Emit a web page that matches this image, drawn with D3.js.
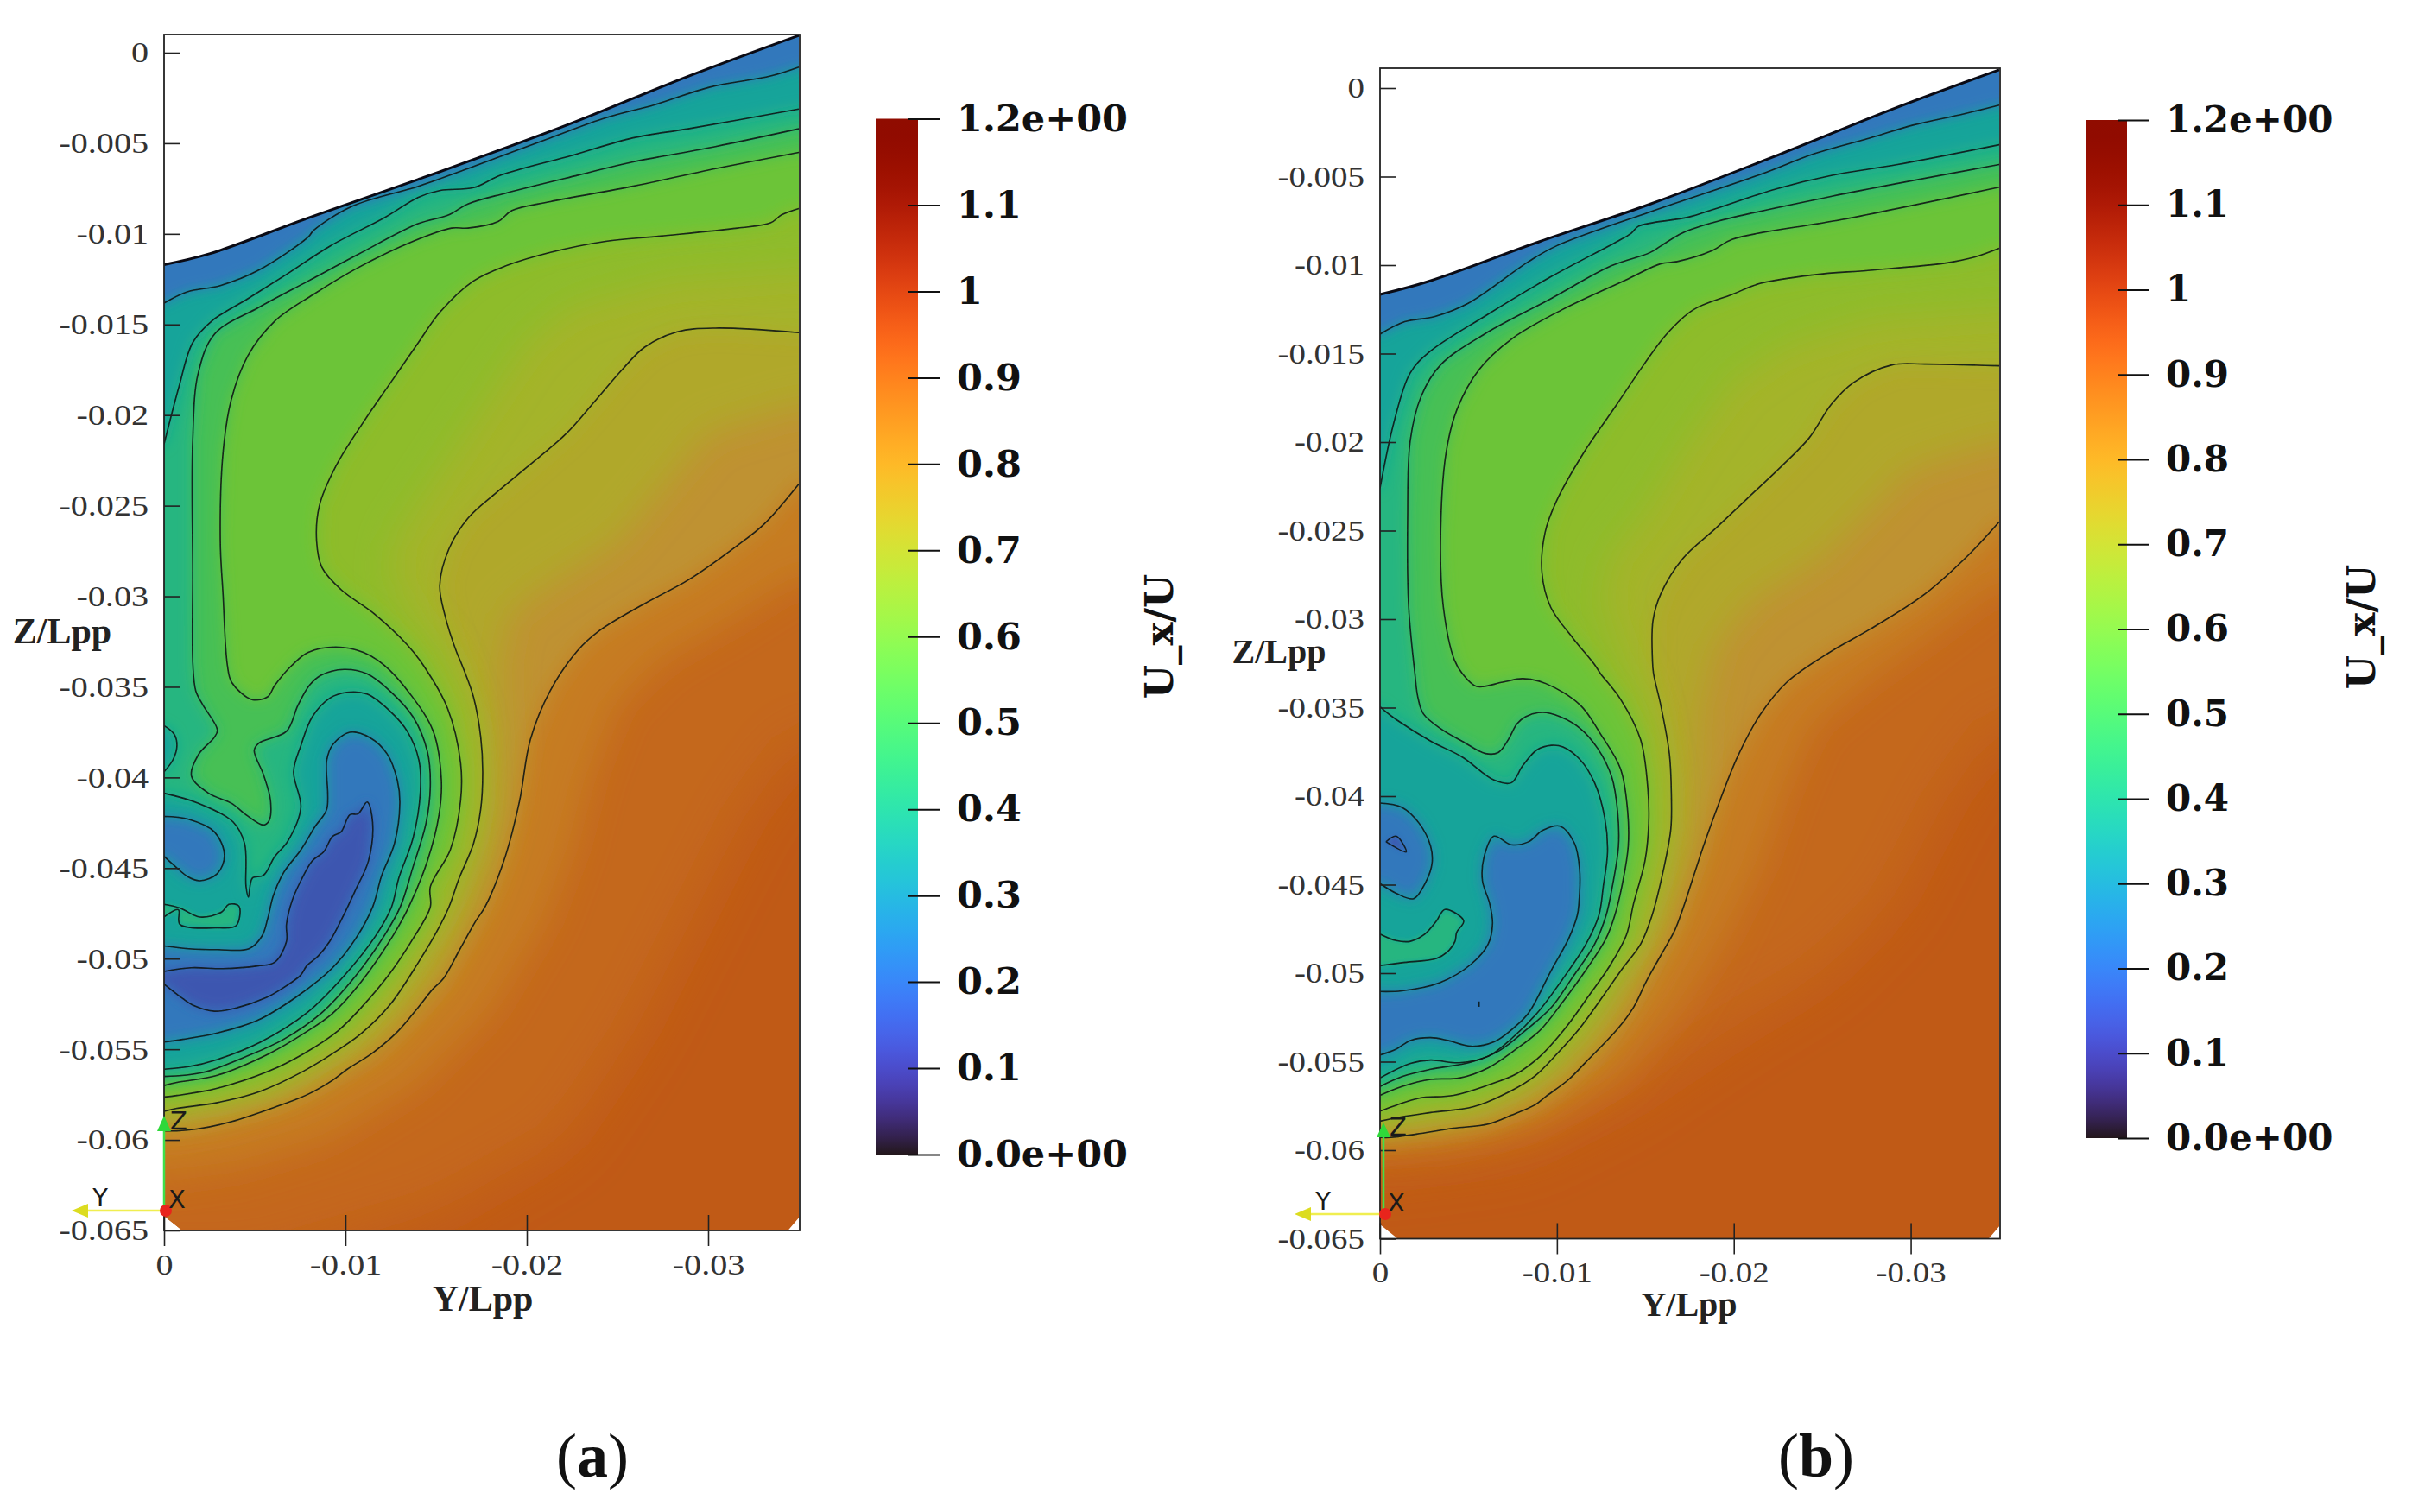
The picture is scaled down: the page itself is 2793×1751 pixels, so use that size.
<!DOCTYPE html>
<html>
<head>
<meta charset="utf-8">
<title>U_x/U wake sections</title>
<script src="https://cdn.jsdelivr.net/npm/d3@7"></script>
<style>
	html, body { margin: 0; background: #fff; }
	svg { display: block; }
</style>
</head>
<body>
<script>
var yTicks = [0, -0.01, -0.02, -0.03];
var yTickLabels = ["0", "-0.01", "-0.02", "-0.03"];
var zTicks = [0, -0.005, -0.01, -0.015, -0.02, -0.025, -0.03, -0.035, -0.04, -0.045, -0.05, -0.055, -0.06, -0.065];
var zTickLabels = ["0", "-0.005", "-0.01", "-0.015", "-0.02", "-0.025", "-0.03", "-0.035", "-0.04", "-0.045", "-0.05", "-0.055", "-0.06", "-0.065"];
var barTicks = [0, 0.1, 0.2, 0.3, 0.4, 0.5, 0.6, 0.7, 0.8, 0.9, 1, 1.1, 1.2];
var barTickLabels = ["0.0e+00", "0.1", "0.2", "0.3", "0.4", "0.5", "0.6", "0.7", "0.8", "0.9", "1", "1.1", "1.2e+00"];

// All contour points below are [|Y/Lpp|, |Z/Lpp|] in thousandths.

// panel (a)
var aHull = [[0,11.7],[2.5,11.1],[7.95,9.12],[14,7],[22.2,4],[28.9,1.3],[35,-0.95]];
var aG = [[35,23.8],[33.1,26],[31.6,27.2],[28.9,29.1],[26.5,30.4],[24,31.9],[22.8,33],[21.3,35.2],[20.2,37.9],[19.6,41.3],[18.8,44.4],[17.7,47.14],[17.2,47.9],[16.3,49.5],[15.4,51.1],[14.8,51.7],[14,52.7],[12.9,54],[11.5,55.2],[10.1,56.1],[9.3,56.7],[7.9,57.5],[6.1,58.2],[3.7,59],[1.8,59.4],[0.7,59.5],[0,59.5]];
var aF = [[35,15.45],[30.4,15.2],[28.3,15.4],[26.5,16.25],[25.25,17.5],[23.7,19.3],[22.2,21],[20.1,22.8],[18.3,24.3],[16.75,25.7],[15.7,27.4],[15.2,29.4],[15.5,31.1],[16.1,33],[16.43,33.8],[17.06,35.55],[17.46,37.77],[17.57,39.68],[17.46,41.74],[17.06,43.65],[16.27,45.56],[15.71,47.14],[15,48.57],[14.05,50.16],[12.46,52.54],[10.87,54.13],[9.29,55.24],[7.7,56.2],[5.32,57.31],[2.94,57.94],[0.71,58.26],[0,58.42]];
var aE = [[35,8.6],[34.05,8.95],[33.44,9.39],[31.62,9.68],[27.37,10.12],[24.34,10.41],[21.3,11.02],[18.88,11.75],[17.06,12.6],[15.23,14.3],[14.02,16],[12.5,18.2],[10.99,20.39],[9.47,22.82],[8.56,25.01],[8.41,26.96],[8.71,28.42],[9.77,29.64],[11.59,30.97],[13.41,32.68],[14.29,33.8],[15.63,36.18],[16.35,39.2],[16.35,41.27],[15.79,43.97],[14.68,46.03],[14.68,47.14],[13.73,48.89],[12.46,50.8],[10.87,52.7],[9.6,53.97],[7.7,55.24],[5.79,56.2],[2.94,57.15],[0.71,57.55],[0,57.63]];
var aD = [[35,5.5],[30.4,6.4],[25.86,7.37],[21.3,8.22],[19.18,8.71],[18.42,9.32],[16.75,9.68],[15.84,9.68],[13.72,10.41],[10.68,11.87],[8.25,13.33],[6.13,14.79],[4.61,16.74],[3.7,19.17],[3.25,22.09],[3.1,26.96],[3.25,29.88],[3.49,33.8],[3.73,34.75],[4.84,35.7],[5.71,35.55],[6.11,34.91],[7.06,33.8],[7.95,33.1],[9.47,32.8],[10.99,33.1],[12.14,33.8],[13.57,35.39],[14.84,37.45],[15.29,40.15],[15.16,42.06],[14.52,44.6],[13.49,47.15],[12.62,48.73],[10.87,51.27],[9.29,53.02],[7.7,54.13],[5.79,55.24],[2.94,56.43],[0.71,56.83],[0,57]];
var aC = [[35,4.2],[30.4,5.18],[25.86,6.03],[22.82,6.76],[18.88,7.74],[16.75,8.35],[15.7,8.95],[14,9.44],[10.68,11.14],[7.95,12.6],[5.22,14.06],[2.79,15.52],[1.88,17.7],[1.58,21.4],[1.58,28.7],[1.59,33.8],[1.75,35.23],[2.14,36],[2.94,37.37],[2.78,37.77],[1.9,38.73],[1.51,39.92],[2.46,40.87],[3.73,41.43],[4.52,42.06],[5.48,42.62],[5.79,42.38],[5.87,41.27],[5.48,39.84],[4.97,38.49],[5.24,38.09],[6.75,37.45],[7.38,36.02],[8.02,34.91],[8.65,34.36],[9.92,34.04],[11.19,34.28],[12.46,35.23],[13.73,36.66],[14.52,38.57],[14.68,40.47],[14.44,42.54],[13.73,44.92],[13.02,47.15],[12.14,48.73],[10.56,50.95],[8.65,53.02],[6.59,54.45],[4.52,55.4],[2.14,56.28],[0,56.5]];
var aBTop = [[35,3.11],[28.9,4.2],[25.86,4.7],[22.5,5.67],[18.57,6.76],[17.06,7.45],[15.23,7.6],[14.02,7.98],[12.2,9.08],[9.17,10.66],[6.74,12.24],[4.61,13.58],[2.64,14.8],[1.58,16],[0.82,18.44],[0,21.6]];
var aBump = [[0,37.14],[0.55,37.6],[0.71,38.25],[0.48,39.04],[0,39.68]];
var aB = [[0,40.87],[1.83,41.4],[3.8,42.45],[4.44,43.65],[4.52,46.03],[4.65,46.6],[4.87,45.55],[5.48,45.4],[6.1,44.37],[6.83,43.5],[7.54,41.66],[7.14,39.68],[7.54,38.25],[8.17,36.66],[9.13,35.63],[10.08,35.3],[11.19,35.4],[12.46,36.34],[13.41,37.45],[14.05,39.04],[14.13,40.8],[13.73,43.33],[12.94,45.56],[12.54,47.15],[11.67,48.73],[9.92,50.95],[7.86,53],[5.32,54.6],[2.94,55.56],[1.35,55.96],[0,56.1]];
var aRing = [[0,47],[0.87,47.2],[1.98,47.7],[3.17,47.43],[3.57,47],[4.13,47.1],[3.97,48.18],[2.94,48.3],[0.87,48.1],[0.79,47.3],[0,47.7]];
var aATop = [[35,0.8],[33.44,1.29],[30.1,1.9],[27.07,2.87],[24.34,3.6],[21.3,4.7],[16.75,6.4],[14.02,7.37],[10.38,8.47],[8.25,9.8],[7.95,10.17],[5.22,12],[3.1,12.85],[1.27,13.2],[0,13.82]];
var aBlob = [[0,42.15],[1.35,42.3],[2.78,43],[3.33,44.3],[2.94,45.3],[1.98,45.7],[1.35,45.5],[0.55,44.85],[0,44.35]];
var aA = [[0,49.3],[1.35,49.45],[2.94,49.5],[4.68,49.45],[5.4,48.75],[5.71,47.8],[6.03,46.5],[6.59,45.25],[7.54,44],[8.33,42.7],[8.97,41.75],[8.97,39.05],[9.29,38.2],[10.24,37.5],[11.35,37.8],[12.3,38.7],[12.86,40.15],[13,41.4],[12.7,43.65],[12,45.4],[11.5,47.15],[10.56,48.9],[9.29,50.5],[7.38,52.05],[5.16,53.4],[2.94,54.1],[1.03,54.45],[0,54.6]];
var aH = [[0,50.7],[1.5,50.5],[3.25,50.55],[5.15,50.4],[6.1,50.2],[6.75,49.05],[6.75,48.1],[7.06,46.8],[7.54,45.7],[8.17,44.6],[8.8,44.1],[9.29,43.25],[9.76,43],[10.24,42.06],[10.7,42],[11.2,41.35],[11.5,42.5],[11.27,44.6],[10.56,46.2],[9.9,47.6],[9.13,49.05],[8.5,49.85],[7.86,50.4],[7.54,50.9],[6.43,51.7],[5.63,52.15],[4.05,52.7],[2.78,52.9],[1.67,52.6],[1.03,52.2],[0,51.4]];
// colour shading between contours, no line drawn in the picture
var aShadeFar = [[35,38],[32,42],[29,48],[26,54],[22,60],[15,64],[5,67],[0,67]];
var aShadeOut = [[35,29],[31,31.5],[27.5,33.5],[25,36],[23.5,40],[22.5,44],[21,48],[18,53],[14,57],[9,60],[4,61.5],[0,62]];
var aShadeF = [[35,19.5],[30,21],[27.5,24],[25,27],[21,29.5],[19,31],[18.5,34],[18.7,38],[18.5,42],[17.5,45.5],[16.5,48],[14.5,51.5],[11,55],[6,57.5],[0,58.9]];
var aShadeE = [[35,12],[28,12.5],[22.5,14],[20,16],[18,19],[16,22],[14,25],[12.7,27],[12.5,29],[13.5,31],[15.5,33.5],[16.8,37],[17,41],[16.5,44.5],[15,47.5],[13,50.5],[10,54],[6,56.8],[0,58]];

// panel (b)
var bHull = [[0,11.66],[2.8,10.9],[9.02,8.67],[15.25,6.56],[22.7,3.7],[29.25,1.08],[35,-1.03]];
var bG = [[35,24.5],[33.3,26.34],[30.8,28.58],[27.7,30.57],[25.5,31.82],[23,33.56],[21.47,35.43],[20.22,37.75],[19.29,40.05],[18.36,42.6],[17.1,46.42],[16.68,47.54],[15.87,49],[15.05,50.47],[14.33,51.93],[13.43,53.15],[11.64,55.02],[10.67,56],[9.37,56.97],[8.72,57.46],[7.41,58.03],[6.11,58.52],[4.16,58.76],[2.05,59.09],[0.59,59.28],[0,59.28]];
var bF = [[35,15.69],[30.8,15.59],[28.94,15.64],[26.76,16.64],[25.5,17.88],[24.27,19.75],[22.7,21.36],[20.85,23.1],[19,24.85],[17.1,26.6],[15.87,28.58],[15.43,30.08],[15.4,32.3],[15.46,33.07],[15.87,34.86],[16.36,37.63],[16.47,39.9],[16.44,41.85],[16.03,44.13],[15.38,46.73],[14.73,48.36],[13.76,49.66],[12.62,51.28],[11.32,53.07],[10.02,54.54],[8.72,55.84],[7.41,56.65],[5.3,57.54],[2.86,57.87],[1.24,58.11],[0,58.36]];
var bE = [[35,9.05],[33.6,9.55],[32.05,9.87],[27.7,10.29],[24.58,10.54],[21.47,11.04],[19.9,11.66],[17.7,12.53],[16.2,13.9],[14.9,15.64],[13.38,17.88],[11.5,20.62],[9.96,23.36],[9.33,25.1],[9.15,27.34],[9.65,29.33],[10.9,31.07],[12.13,32.57],[12.46,33.07],[13.6,34.53],[14.73,36.81],[15.14,39.57],[15.19,41.53],[14.98,43.64],[14.33,46.08],[13.92,47.87],[12.94,49.66],[11.8,51.28],[10.5,53.07],[9.04,54.7],[7.74,55.67],[6.11,56.32],[4.16,56.9],[2.21,57.06],[0.91,57.46],[0,57.79]];
var bD = [[35,5.6],[26.1,7.43],[19.9,8.55],[18.8,9.17],[16.8,9.8],[15.87,9.92],[14,10.79],[10.27,12.53],[7.47,14.15],[5.6,15.9],[4.36,18.13],[3.73,20.62],[3.42,25.6],[3.58,29.33],[4.2,32.3],[4.65,33.07],[5.46,33.8],[6.93,33.56],[8.07,33.36],[9.37,33.64],[11.32,34.86],[12.46,36.48],[13.59,38.44],[14,40.87],[14.03,42.83],[13.67,45.1],[13.27,46.73],[12.78,48.03],[11.64,49.82],[10.34,51.61],[9.04,53.23],[7.58,54.37],[6.11,55.35],[4.49,55.92],[2.86,56],[1.24,56.4],[0,56.9]];
var bC = [[35,4.32],[25.2,6.18],[19,7.55],[17.1,8.18],[15.87,8.92],[15.25,9.3],[13.07,10.04],[9.65,11.9],[5.9,13.9],[3.42,15.64],[2.33,17.4],[1.71,19.9],[1.56,24.35],[1.62,29.33],[1.97,33.07],[2.13,34.37],[2.45,35.35],[3.5,36.24],[4.65,36.9],[5.95,37.59],[6.68,37.54],[7.25,36.81],[7.74,35.92],[8.23,35.51],[9.2,35.27],[10.18,35.51],[11.3,36.16],[12.3,37.3],[13.1,38.92],[13.43,40.87],[13.48,42.83],[13.1,45.27],[12.78,46.73],[12.13,48.36],[10.83,50.31],[9.69,51.93],[8.23,53.23],[6.76,54.37],[5.14,55.02],[2.86,55.43],[1.24,55.84],[0,56.4]];
var bBTop = [[35,3.2],[29.25,4.32],[25.5,4.94],[22.4,5.69],[19,6.8],[17.4,7.3],[14.62,7.8],[14.2,8.2],[13.4,8.67],[9.65,10.66],[5.9,12.9],[2.8,14.9],[1.7,16.1],[0.78,18.9],[0,22.6]];
var bB = [[0,34.94],[0.26,35.18],[0.91,35.67],[2.86,36.89],[4.65,37.79],[6.44,39.09],[7.41,39.25],[8.07,38.27],[8.88,37.38],[9.69,37.13],[10.34,37.22],[11.32,37.95],[12.13,39.25],[12.7,41.2],[12.86,43.15],[12.62,45.1],[12.37,46.73],[11.64,48.36],[10.34,50.31],[8.88,52.26],[7.41,53.72],[6.11,54.7],[4.49,55.06],[2.86,54.91],[1.72,55.1],[0,55.92]];
var bRing = [[0,47.79],[0.91,48.16],[1.72,48.2],[2.54,47.79],[3.19,47.05],[3.67,46.4],[4.73,47.05],[4.33,47.7],[4.24,48.2],[3.76,48.84],[3.19,49.17],[1.24,49.41],[0,49.57]];
var bATop = [[35,0.96],[32.98,1.46],[30.18,2.08],[27.7,2.82],[24.58,3.7],[21.47,4.89],[15.25,7],[9.96,8.92],[8.4,9.8],[4.98,12.16],[3.11,12.9],[1.4,13.2],[0,13.9]];
var bBlob = [[0,40.39],[1.24,40.63],[2.21,41.53],[2.86,42.83],[2.94,43.8],[2.54,44.94],[1.9,45.79],[0.94,45.5],[0,44.94]];
var bA = [[0,51.04],[1.24,51],[3.35,50.55],[5.14,49.5],[6.11,48.36],[6.36,47.2],[6.2,46.08],[5.79,44.78],[5.87,43.48],[6.44,42.26],[7.41,42.74],[8.39,42.58],[9.2,41.93],[10.18,41.69],[10.99,42.66],[11.28,44.13],[11.24,46.08],[11.15,46.73],[10.67,48.03],[9.69,49.82],[8.39,52.26],[7.58,53.07],[6.44,53.88],[5.14,54.13],[3.84,53.8],[2.86,53.64],[1.72,53.8],[0.91,54.29],[0,54.62]];
var bH = [[0.34,42.58],[0.91,42.26],[1.48,43.15],[0.34,42.58]];
var bDot = [[5.6,51.6],[5.6,51.9]];
var bShadeFar = [[35,36],[32,40],[29,46],[25,50],[20,53],[14,57],[8,60],[0,61]];
var bShadeOut = [[35,28],[31,31],[27.5,33.5],[24.5,36],[22.8,40],[21.5,44],[19.5,48],[17,52],[13.5,56],[9,58.5],[4,59.8],[0,60]];
var bShadeF = [[35,20],[30,21.5],[27.5,24],[25,26.5],[21,29],[19,31.5],[18.2,35],[18,39],[17.5,43],[16,47],[14.5,50],[12,54],[9,56.5],[5,58.2],[0,58.8]];
var bShadeE = [[35,12.5],[28,13],[23,14.5],[20,16.5],[17.5,20],[15,24],[13,26.5],[12.5,29],[13.5,32],[15,35],[15.8,39],[15.8,42],[15.2,45],[14,48.5],[12,52],[9.5,55],[6,57],[0,58.1]];

var SERIF = "'DejaVu Serif', serif";
var TITLE = "'Liberation Serif', serif";
var TICK_STRETCH = 1.18;
var svg = d3.select("body").append("svg").attr("width", 2793).attr("height", 1751);
var defs = svg.append("defs");

[3, 7, 8, 10, 12, 20, 32].forEach(function(s){
	defs.append("filter").attr("id", "blur" + s)
		.attr("filterUnits", "userSpaceOnUse")
		.attr("x", 0).attr("y", 0).attr("width", 2793).attr("height", 1751)
		.append("feGaussianBlur").attr("stdDeviation", s);
});
defs.append("filter").attr("id", "soft")
	.attr("filterUnits", "userSpaceOnUse")
	.attr("x", 0).attr("y", 0).attr("width", 2793).attr("height", 1751)
	.append("feGaussianBlur").attr("stdDeviation", 0.5);

// a contour encloses the slower side; run it off the section so the blur does not fade at the edge
function closeOff(p){
	var first = p[0], last = p[p.length - 1], out = p.slice();
	if(last[0] == 0) out.push([-8, last[1]]);
	if(first[0] == 35){
		out.push([-8, -14], [43, -14], [43, first[1]]);
	} else if(first[0] == 0){
		out.push([-8, first[1]]);
	}
	return out;
}

function drawPanel(o){
	var x = d3.scaleLinear().domain([0, -0.035]).range(o.xRange);
	var z = d3.scaleLinear().domain([0, -0.065]).range(o.zRange);
	var px = function(d){ return x(d[0] / -1000); };
	var py = function(d){ return z(d[1] / -1000); };
	var g = svg.append("g");

	// section outline: hull on top, small chamfers in the bottom corners
	var section = o.hull.concat([[35, 64.3], [34.4, 65], [1, 65], [0, 64.2]]);
	defs.append("clipPath").attr("id", o.id + "clip")
		.append("path").attr("d", d3.line().x(px).y(py)(section) + "Z");

	var field = g.append("g").attr("clip-path", "url(#" + o.id + "clip)");
	field.append("rect")
		.attr("x", o.xRange[0]).attr("y", o.top)
		.attr("width", o.xRange[1] - o.xRange[0] + 2).attr("height", o.zRange[1] - o.top)
		.attr("fill", "#c05a16");
	var fillLine = d3.line().x(px).y(py);
	o.fills.forEach(function(f){
		field.append("path")
			.attr("d", fillLine(closeOff(f.p)) + "Z")
			.attr("fill", f.c)
			.attr("filter", "url(#blur" + f.b + ")");
	});

	var strokeLine = d3.line().x(px).y(py).curve(d3.curveCatmullRom.alpha(0.5));
	var lines = field.append("g").attr("filter", "url(#soft)");
	o.lines.forEach(function(p){
		lines.append("path").attr("d", strokeLine(p))
			.attr("fill", "none").attr("stroke", "#0c1414")
			.attr("stroke-width", 1.6).attr("stroke-opacity", 0.9);
	});
	g.append("path").attr("d", strokeLine(o.hull))
		.attr("fill", "none").attr("stroke", "#0a0a14").attr("stroke-width", 3);

	// frame
	g.append("rect")
		.attr("x", o.xRange[0]).attr("y", o.top)
		.attr("width", o.xRange[1] - o.xRange[0] + 1).attr("height", o.zRange[1] - o.top)
		.attr("fill", "none").attr("stroke", "#222").attr("stroke-width", 1.8);

	var yAxis = d3.axisBottom(x).tickValues(yTicks).tickSize(18).tickPadding(9)
		.tickFormat(function(d, i){ return yTickLabels[i]; });
	var zAxis = d3.axisLeft(z).tickValues(zTicks).tickSize(18).tickPadding(0)
		.tickFormat(function(d, i){ return zTickLabels[i]; });
	var ya = g.append("g").attr("transform", "translate(0," + o.zRange[1] + ")").call(yAxis);
	var za = g.append("g").attr("transform", "translate(" + o.xRange[0] + ",0)").call(zAxis);
	ya.select(".domain").remove();
	za.select(".domain").remove();
	ya.selectAll(".tick line").attr("y1", -18).attr("stroke", "#222").attr("stroke-width", 1.6);
	za.selectAll(".tick line").attr("x2", 18).attr("stroke", "#222").attr("stroke-width", 1.6);
	// the figure is stretched sideways, so the serif ticks are too
	ya.selectAll("text").attr("font-family", TITLE).attr("font-size", o.tickFont).attr("fill", "#333")
		.attr("transform", "scale(" + TICK_STRETCH + ",1)");
	za.selectAll("text").attr("font-family", TITLE).attr("font-size", o.tickFont).attr("fill", "#333")
		.attr("x", -18 / TICK_STRETCH)
		.attr("transform", "scale(" + TICK_STRETCH + ",1)");

	// orientation triad
	var t = o.triad;
	g.append("line").attr("x1", t.x).attr("x2", t.x).attr("y1", t.y).attr("y2", t.zBase)
		.attr("stroke", "#3fe04a").attr("stroke-width", 2.5);
	g.append("path").attr("d", "M" + t.x + "," + t.zTip + "L" + (t.x + 8) + "," + t.zBase + "L" + (t.x - 8) + "," + t.zBase + "Z")
		.attr("fill", "#2fd83a");
	g.append("line").attr("x1", t.x).attr("x2", t.yBase).attr("y1", t.y).attr("y2", t.y)
		.attr("stroke", "#f0ee50").attr("stroke-width", 2.5);
	g.append("path").attr("d", "M" + t.yTip + "," + t.y + "L" + t.yBase + "," + (t.y - 8) + "L" + t.yBase + "," + (t.y + 8) + "Z")
		.attr("fill", "#dcdc20");
	g.append("circle").attr("cx", t.x + 2).attr("cy", t.y).attr("r", 7).attr("fill", "#e8241c");
	[["X", t.x + 15, t.y - 3], ["Y", t.yBase + 14, t.y - 5], ["Z", t.x + 17, t.zBase - 2]].forEach(function(l){
		g.append("text").text(l[0]).attr("x", l[1]).attr("y", l[2])
			.attr("text-anchor", "middle")
			.attr("font-family", "'DejaVu Sans', sans-serif").attr("font-size", 29).attr("fill", "#1a1a1a");
	});

	// axis titles
	g.append("text").text("Z/Lpp").attr("x", o.zTitle[0]).attr("y", o.zTitle[1])
		.attr("text-anchor", "middle").attr("font-family", TITLE).attr("font-weight", "bold")
		.attr("font-size", o.titleFont).attr("fill", "#222");
	g.append("text").text("Y/Lpp").attr("x", o.yTitle[0]).attr("y", o.yTitle[1])
		.attr("text-anchor", "middle").attr("font-family", TITLE).attr("font-weight", "bold")
		.attr("font-size", o.titleFont).attr("fill", "#222");

	// colour bar
	var bar = d3.scaleLinear().domain([0, 1.2]).range(o.barRange);
	var color = d3.scaleSequential(d3.interpolateTurbo).domain([0, 1.2]);
	var grad = defs.append("linearGradient").attr("id", o.id + "grad")
		.attr("x1", 0).attr("x2", 0).attr("y1", 1).attr("y2", 0);
	d3.range(0, 1.2001, 0.02).forEach(function(v){
		grad.append("stop").attr("offset", v / 1.2).attr("stop-color", color(v));
	});
	g.append("rect").attr("x", o.barX[0]).attr("y", o.barRange[1])
		.attr("width", o.barX[1] - o.barX[0]).attr("height", o.barRange[0] - o.barRange[1])
		.attr("fill", "url(#" + o.id + "grad)");
	var barAxis = d3.axisRight(bar).tickValues(barTicks).tickSize(37).tickPadding(o.barPad)
		.tickFormat(function(d, i){ return barTickLabels[i]; });
	var ba = g.append("g").attr("transform", "translate(" + (o.barX[1] - 11) + ",0)").call(barAxis);
	ba.select(".domain").remove();
	ba.selectAll(".tick line").attr("stroke", "#111").attr("stroke-width", 2);
	ba.selectAll("text").attr("font-family", SERIF).attr("font-weight", "bold")
		.attr("font-size", o.barFont).attr("fill", "#111");
	g.append("text").text("U_x/U")
		.attr("transform", "translate(" + o.barTitle[0] + "," + o.barTitle[1] + ") rotate(-90)")
		.attr("text-anchor", "middle").attr("font-family", SERIF).attr("font-weight", "bold")
		.attr("font-size", 45).attr("fill", "#111");

	// panel letter
	var letter = g.append("text").attr("x", o.letter[0]).attr("y", o.letter[1])
		.attr("text-anchor", "middle").attr("font-family", TITLE).attr("font-size", 72).attr("fill", "#111");
	letter.append("tspan").text("(");
	letter.append("tspan").text(o.letter[2]).attr("font-weight", "bold");
	letter.append("tspan").text(")");
}

function fillList(s){
	return [
		{p: s.far, c: "#c4681c", b: 32},
		{p: s.out, c: "#c67c24", b: 20},
		{p: s.G, c: "#bf9230", b: 12},
		{p: s.sF, c: "#b0a82c", b: 20},
		{p: s.F, c: "#a4b42a", b: 12},
		{p: s.sE, c: "#8ebc2c", b: 20},
		{p: s.E, c: "#6cc438", b: 10},
		{p: s.D, c: "#46c054", b: 8},
		{p: s.C, c: "#28b680", b: 8},
		{p: s.BTop, c: "#18a49a", b: 8}
	].concat(s.bump ? [{p: s.bump, c: "#18a49a", b: 7}] : [], [
		{p: s.B, c: "#18a49a", b: 8},
		{p: s.ring, c: "#28b680", b: 3},
		{p: s.ATop, c: "#3078bc", b: 7},
		{p: s.blob, c: "#3078bc", b: 8},
		{p: s.A, c: "#3078bc", b: 8},
		{p: s.H, c: "#3c56b0", b: s.Hb}
	]);
}

drawPanel({
	id: "a", xRange: [190, 925], zRange: [61, 1425], top: 40, hull: aHull,
	fills: fillList({far: aShadeFar, out: aShadeOut, G: aG, sF: aShadeF, F: aF, sE: aShadeE, E: aE, D: aD, C: aC, BTop: aBTop, bump: aBump, B: aB, ring: aRing, ATop: aATop, blob: aBlob, A: aA, H: aH, Hb: 7}),
	lines: [aG, aF, aE, aD, aC, aBTop, aBump, aB, aRing, aATop, aBlob, aA, aH],
	tickFont: 34, titleFont: 42, zTitle: [72, 745], yTitle: [559, 1518],
	triad: {x: 190, y: 1402, zTip: 1292, zBase: 1310, yTip: 83, yBase: 102},
	barX: [1014, 1063], barRange: [1337, 137.5], barPad: 19, barFont: 43, barTitle: [1358, 737],
	letter: [686, 1710, "a"]
});
drawPanel({
	id: "b", xRange: [1598, 2315], zRange: [102, 1434.5], top: 79, hull: bHull,
	fills: fillList({far: bShadeFar, out: bShadeOut, G: bG, sF: bShadeF, F: bF, sE: bShadeE, E: bE, D: bD, C: bC, BTop: bBTop, B: bB, ring: bRing, ATop: bATop, blob: bBlob, A: bA, H: bH, Hb: 3}),
	lines: [bG, bF, bE, bD, bC, bBTop, bB, bRing, bATop, bBlob, bA, bH, bDot],
	tickFont: 33, titleFont: 40, zTitle: [1481, 768], yTitle: [1956, 1524],
	triad: {x: 1602, y: 1406, zTip: 1300, zBase: 1317, yTip: 1499, yBase: 1518},
	barX: [2415, 2463], barRange: [1318, 139], barPad: 19, barFont: 42, barTitle: [2750, 726],
	letter: [2103, 1710, "b"]
});
</script>
</body>
</html>
